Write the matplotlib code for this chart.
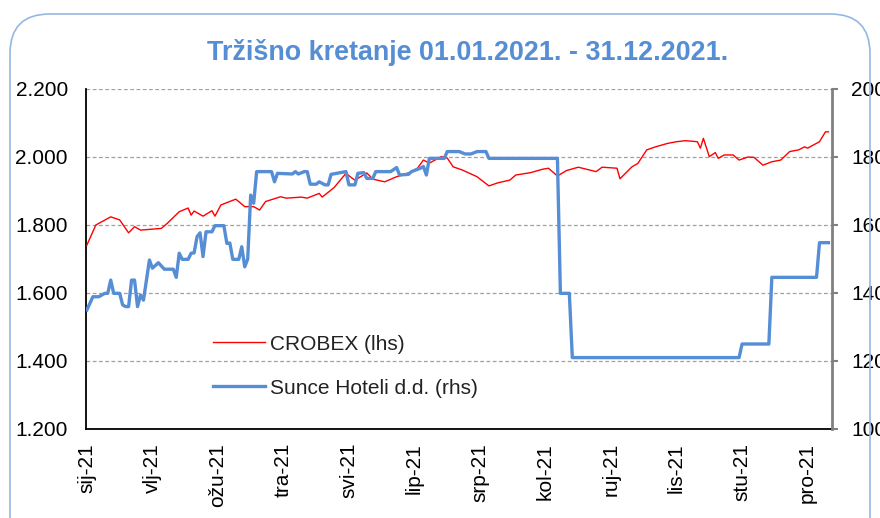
import matplotlib
matplotlib.use("Agg")
import matplotlib.pyplot as plt
from matplotlib.patches import FancyBboxPatch

# ---- data (trading-day index, value) ----
crobex_idx = [0, 3, 8, 11, 14, 16, 18, 25, 27, 31, 34, 35, 36, 39, 42, 43, 45, 50, 53, 56,
              58, 60, 65, 67, 72, 74, 78, 79, 83, 87, 89, 90, 94, 96, 100, 104, 106, 109, 111, 113,
              115, 119, 121, 123, 126, 131, 135, 138, 142, 144, 149, 153, 155, 158, 161, 165, 171, 173, 178, 179,
              183, 185, 188, 191, 195, 198, 201, 205, 206, 207, 209, 211, 212, 214, 217, 219, 222, 224, 227, 230,
              233, 236, 239, 241, 242, 246, 248, 249]
crobex_val = [1.741, 1.800, 1.824, 1.815, 1.777, 1.795, 1.785, 1.790, 1.805, 1.839, 1.850, 1.829, 1.841, 1.826, 1.842, 1.826, 1.859, 1.876, 1.854, 1.854,
              1.844, 1.869, 1.883, 1.879, 1.882, 1.879, 1.893, 1.882, 1.910, 1.952, 1.938, 1.932, 1.953, 1.935, 1.927, 1.942, 1.947, 1.957, 1.967, 1.991,
              1.982, 2.001, 1.997, 1.971, 1.962, 1.942, 1.915, 1.924, 1.932, 1.947, 1.954, 1.964, 1.967, 1.944, 1.960, 1.970, 1.957, 1.970, 1.967, 1.936,
              1.971, 1.981, 2.021, 2.030, 2.040, 2.045, 2.048, 2.045, 2.026, 2.055, 2.001, 2.013, 1.996, 2.006, 2.006, 1.991, 2.000, 1.999, 1.976, 1.986,
              1.991, 2.016, 2.021, 2.030, 2.026, 2.045, 2.074, 2.074]

sunce_idx = [0, 2, 4, 6, 7, 8, 9, 11, 12, 13, 14, 15, 16, 17, 18, 19, 21, 22, 24, 26,
             29, 30, 31, 32, 34, 35, 36, 37, 38, 39, 40, 42, 43, 46, 47, 48, 49, 51, 52, 53,
             54, 55, 56, 57, 62, 63, 64, 69, 70, 71, 73, 74, 75, 77, 78, 80, 81, 82, 87, 88,
             90, 91, 93, 94, 96, 97, 102, 104, 105, 108, 109, 112, 113, 114, 115, 120, 121, 125, 127, 129,
             131, 134, 135, 158, 159, 162, 163, 219, 220, 229, 230, 245, 246, 249]
sunce_val = [135.0, 138.9, 138.9, 139.9, 139.9, 143.8, 139.9, 139.9, 136.5, 136.0, 136.0, 143.8, 143.8, 136.0, 139.4, 137.9, 149.7, 147.3, 148.9, 147.0,
             147.0, 144.6, 151.7, 149.9, 149.9, 151.7, 151.8, 156.6, 157.7, 150.7, 158.0, 158.0, 159.8, 159.8, 154.6, 154.7, 149.9, 149.9, 153.6, 147.7,
             150.0, 168.8, 166.4, 175.7, 175.7, 172.7, 175.2, 175.0, 175.7, 175.0, 175.7, 175.7, 172.0, 172.0, 172.7, 171.8, 171.8, 174.9, 175.7, 171.8,
             171.8, 175.2, 175.4, 173.7, 173.7, 175.7, 175.7, 176.9, 174.7, 174.9, 175.7, 176.7, 177.2, 174.7, 179.6, 179.6, 181.6, 181.6, 180.9, 180.9,
             181.6, 181.6, 179.6, 179.6, 139.9, 139.9, 121.0, 121.0, 125.0, 125.0, 144.6, 144.6, 154.8, 154.8]

month_ticks = [0, 22, 44, 66, 88, 110, 132, 154, 176, 198, 220, 242]
month_labels = ["sij-21", "vlj-21", "ožu-21", "tra-21", "svi-21", "lip-21",
                "srp-21", "kol-21", "ruj-21", "lis-21", "stu-21", "pro-21"]
left_ticks = [1.2, 1.4, 1.6, 1.8, 2.0, 2.2]
left_labels = ["1.200", "1.400", "1.600", "1.800", "2.000", "2.200"]
right_ticks = [100, 120, 140, 160, 180, 200]

title = "Tržišno kretanje 01.01.2021. - 31.12.2021."
name_crobex = "CROBEX (lhs)"
name_sunce = "Sunce Hoteli d.d. (rhs)"

BLUE = "#558ED5"
RED = "#FF0000"
FS = 15

plt.rcParams['font.family'] = ['Liberation Sans', 'DejaVu Sans']

W, H = 880, 518
fig = plt.figure(figsize=(W / 100, H / 100), dpi=100)
fig.patch.set_facecolor("white")

# rounded frame
frame = FancyBboxPatch((10 / W, -40 / H), 860 / W, (H - 14 + 40) / H,
                       boxstyle="round,pad=0,rounding_size=0.045",
                       transform=fig.transFigure, fill=False,
                       edgecolor="#95B7E2", linewidth=1.2, zorder=0,
                       mutation_aspect=W / H)
fig.patches.append(frame)

fig.text(468 / W, 1 - 52 / H, title, ha="center", va="center",
         fontsize=19.4, fontweight="bold", color=BLUE,
         family=['Liberation Sans', 'DejaVu Sans'])

ax = fig.add_axes([86 / W, 1 - 429 / H, (832 - 86) / W, (429 - 89) / H])
ax2 = ax.twinx()

ax.set_xlim(-0.3, 250.2)
ax.set_ylim(1.2, 2.2)
ax2.set_ylim(100, 200)

for y in left_ticks[1:]:
    ax.axhline(y, color="#A0A0A0", linestyle=(0, (3, 2)), linewidth=0.9, zorder=1)

l1, = ax.plot(crobex_idx, crobex_val, color=RED, linewidth=1.0, zorder=3)
l2, = ax2.plot(sunce_idx, sunce_val, color=BLUE, linewidth=2.4, zorder=3)

ax.set_yticks(left_ticks)
ax.set_yticklabels(left_labels)
ax.set_xticks(month_ticks)
ax.set_xticklabels(month_labels, rotation=90)
ax.tick_params(axis="y", length=0, pad=13, labelsize=FS)
ax.tick_params(axis="x", length=0, pad=10, labelsize=FS)

ax2.set_yticks(right_ticks)
ax2.set_yticklabels([str(v) for v in right_ticks])
ax2.tick_params(axis="y", length=4, width=1.5, color="#808080", pad=10, labelsize=FS)

for a in (ax, ax2):
    a.spines["top"].set_visible(False)
ax.spines["right"].set_visible(False)
ax2.spines["left"].set_visible(False)
ax2.spines["bottom"].set_visible(False)
ax2.spines["right"].set_color("#808080")
ax2.spines["right"].set_linewidth(2)
ax.spines["left"].set_linewidth(1.3)
ax.spines["bottom"].set_linewidth(1.3)

leg = ax2.legend([l1, l2], [name_crobex, name_sunce], loc="center left",
                 bbox_to_anchor=(213 / W, 1 - 366 / H), bbox_transform=fig.transFigure,
                 frameon=False, fontsize=FS, handlelength=2.5, handletextpad=0.25,
                 labelspacing=1.2, borderpad=0, borderaxespad=0)
for t in leg.get_texts():
    t.set_color("#222222")

fig.savefig("out.png", dpi=100)
